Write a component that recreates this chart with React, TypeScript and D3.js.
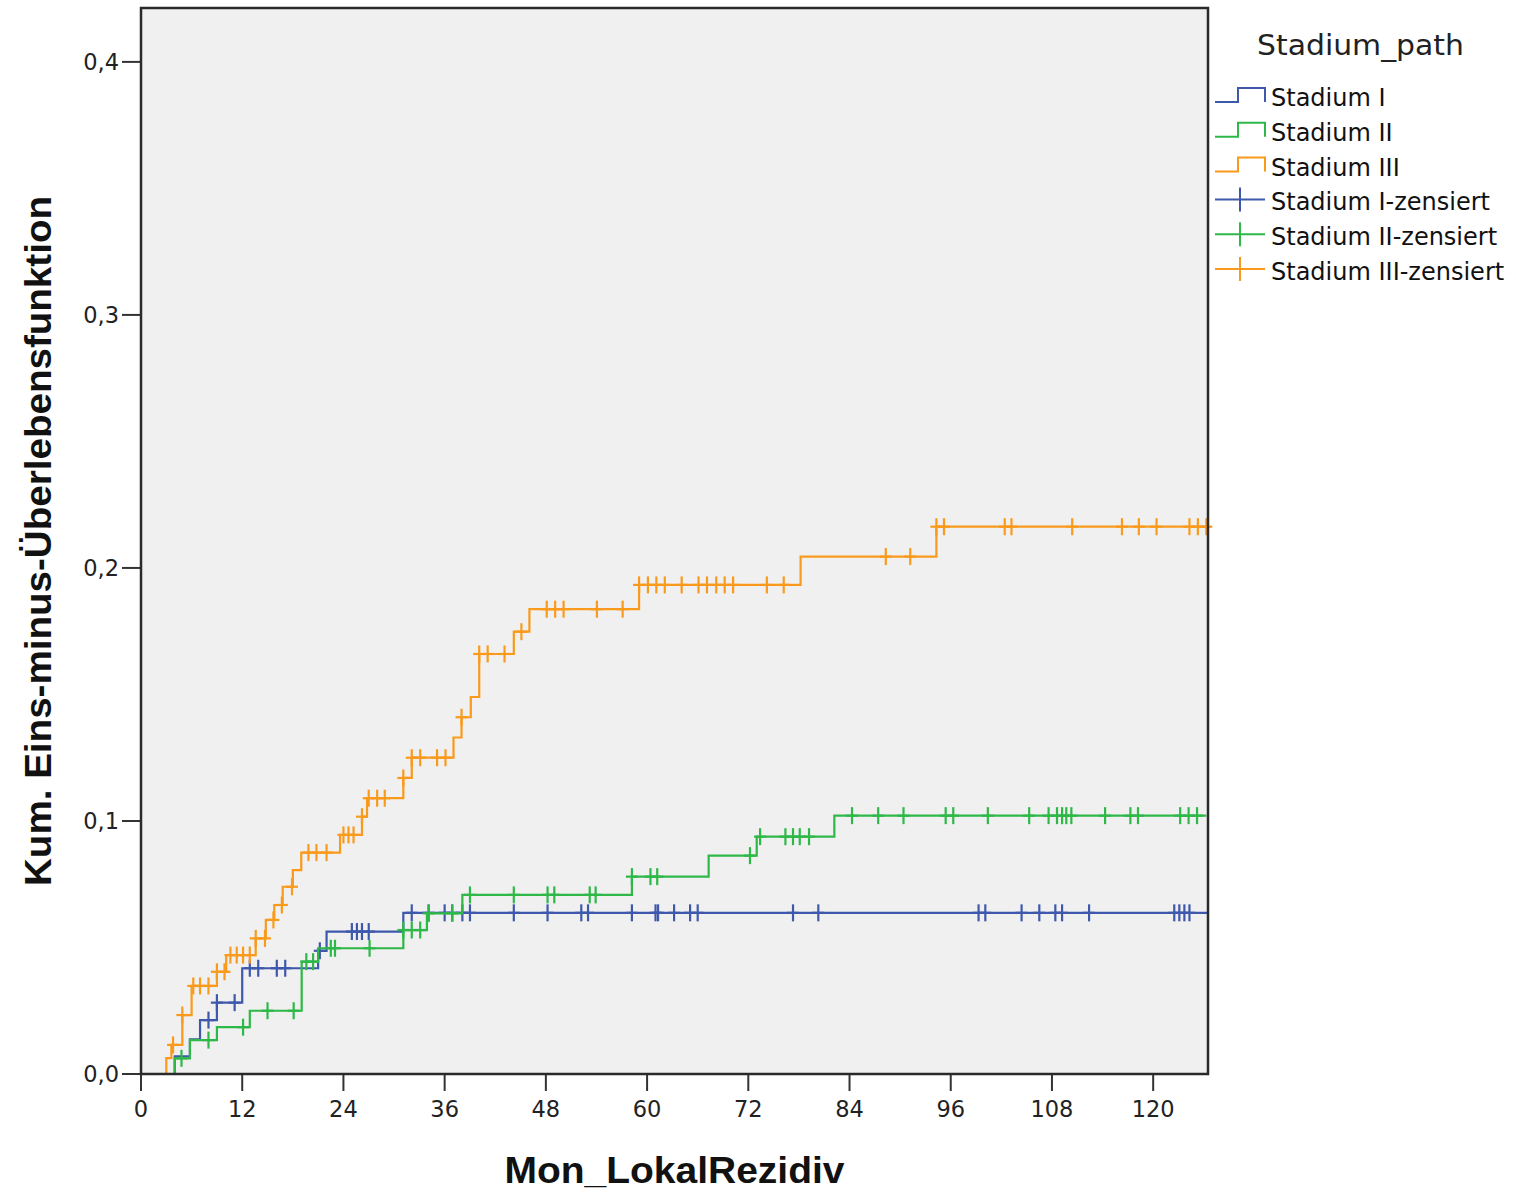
import { useMemo } from 'react';
import * as d3 from 'd3';

// series names, legend entries
const categories = ['Stadium I', 'Stadium II', 'Stadium III'];
const legendTitle = 'Stadium_path';
const censorSuffix = '-zensiert';

// Stadium I: event times (months) and cumulative 1 - S(t) after each step
const stageIEventTimes = [4.0, 5.8, 7.0, 9.0, 12.0, 21.0, 22.0, 31.1];
const stageIEventValues = [0.007, 0.0137, 0.0213, 0.0282, 0.0418, 0.0487, 0.0563, 0.0637];
const stageICensored = [
  8.0, 9.0, 11.1, 12.9, 13.9, 16.1, 17.1, 21.2, 25.0, 25.6, 26.2, 27.0, 32.1, 34.1, 36.0, 36.9,
  38.1, 39.0, 44.2, 48.2, 52.2, 53.0, 58.2, 61.0, 61.3, 63.2, 65.1, 66.0, 77.3, 80.3, 99.3, 100.1,
  104.4, 106.5, 108.4, 109.2, 112.4, 122.5, 123.1, 123.7, 124.3,
];

// Stadium II
const stageIIEventTimes = [4.0, 5.8, 9.0, 12.9, 19.05, 21.0, 31.1, 33.9, 38.1, 58.2, 67.3, 73.0, 82.2];
const stageIIEventValues = [0.0062, 0.0134, 0.0185, 0.025, 0.0444, 0.0497, 0.0569, 0.0635, 0.0708, 0.078, 0.0863, 0.0938, 0.1021];
const stageIICensored = [
  4.8, 8.0, 12.1, 15.0, 18.1, 19.6, 20.4, 22.5, 23.0, 27.1, 31.1, 32.1, 33.1, 34.1, 36.9, 39.0,
  44.2, 48.2, 49.0, 53.2, 53.9, 58.2, 60.4, 61.2, 72.2, 73.4, 76.4, 77.3, 78.1, 79.2, 84.3, 87.4,
  90.4, 95.4, 96.3, 100.4, 105.3, 107.6, 108.6, 109.2, 109.7, 110.3, 114.3, 117.3, 118.2, 123.2,
  124.2, 125.2,
];

// Stadium III
const stageIIIEventTimes = [
  3.0, 3.6, 4.9, 6.0, 9.0, 10.1, 13.6, 14.8, 15.8, 16.8, 18.0, 19.0, 23.6, 26.2, 26.8, 31.1, 32.1,
  37.05, 38.0, 39.1, 40.1, 44.2, 46.05, 59.05, 78.2, 94.3,
];
const stageIIIEventValues = [
  0.0063, 0.0115, 0.0233, 0.0348, 0.0404, 0.047, 0.0536, 0.0609, 0.0668, 0.074, 0.0806, 0.0875,
  0.0945, 0.1017, 0.109, 0.117, 0.125, 0.133, 0.141, 0.149, 0.166, 0.1748, 0.1837, 0.1933, 0.2045,
  0.2163,
];
const stageIIICensored = [
  3.8, 4.9, 6.2, 7.0, 8.0, 9.0, 9.9, 10.6, 11.35, 12.1, 12.9, 13.6, 14.7, 15.7, 16.7, 17.9, 19.85,
  20.8, 22.0, 24.0, 24.6, 25.2, 26.2, 27.0, 28.0, 28.9, 31.1, 32.1, 33.1, 35.1, 36.1, 38.0, 40.1,
  41.1, 43.1, 45.1, 48.1, 49.1, 50.1, 54.05, 57.1, 59.05, 60.1, 61.1, 62.1, 64.1, 66.1, 67.1, 68.2,
  69.2, 70.2, 74.2, 76.2, 88.3, 91.2, 94.3, 95.2, 102.4, 103.2, 110.4, 116.3, 118.3, 120.4, 124.3,
  125.3, 126.3,
];

// end of follow-up per group
const followUpEnd = [126.5, 126.3, 126.5];

// axes
const xTickValues = [0, 12, 24, 36, 48, 60, 72, 84, 96, 108, 120];
const yTickValues = [0, 0.1, 0.2, 0.3, 0.4];
const yTickLabels = ['0,0', '0,1', '0,2', '0,3', '0,4'];
const xTitle = 'Mon_LokalRezidiv';
const yTitle = 'Kum. Eins-minus-Überlebensfunktion';

const colors = ['#3e58ac', '#2eb848', '#f99a1c'];

const W = 1516;
const H = 1192;
const plot = { left: 141, right: 1208, top: 8, bottom: 1074 };

const App = () => {
  const x = d3.scaleLinear().domain([0, 126.5]).range([plot.left, plot.right]);
  const y = d3.scaleLinear().domain([0, 0.4213]).range([plot.bottom, plot.top]);

  const series = useMemo(() => {
    const times = [stageIEventTimes, stageIIEventTimes, stageIIIEventTimes];
    const values = [stageIEventValues, stageIIEventValues, stageIIIEventValues];
    const cens = [stageICensored, stageIICensored, stageIIICensored];
    return categories.map((name, i) => {
      const pts: [number, number][] = [[0, 0]];
      times[i].forEach((t, j) => pts.push([t, values[i][j]]));
      pts.push([followUpEnd[i], values[i][values[i].length - 1]]);
      const valueAt = (t: number) => {
        const k = d3.bisectRight(times[i], t);
        return k === 0 ? 0 : values[i][k - 1];
      };
      const marks = cens[i].map((t) => [t, valueAt(t)] as [number, number]);
      return { name, color: colors[i], pts, marks };
    });
  }, []);

  const line = d3
    .line<[number, number]>()
    .x((d) => x(d[0]))
    .y((d) => y(d[1]))
    .curve(d3.curveStepAfter);

  const legendY0 = 95;
  const legendStep = 34.8;
  const lx = 1215;

  return (
    <svg
      width={W}
      height={H}
      style={{ position: 'absolute', left: 0, top: 0, display: 'block', background: '#fff' }}
    >
      <rect
        x={plot.left}
        y={plot.top}
        width={plot.right - plot.left}
        height={plot.bottom - plot.top}
        fill="#f0f0f0"
      />

      {/* y ticks */}
      {yTickValues.map((v, i) => (
        <g key={'y' + v}>
          <line x1={plot.left - 19} x2={plot.left} y1={y(v)} y2={y(v)} stroke="#333" strokeWidth={2} />
          <text
            x={plot.left - 22}
            y={y(v)}
            textAnchor="end"
            dominantBaseline="central"
            fontFamily="DejaVu Sans"
            fontSize={22.5}
            fill="#222"
          >
            {yTickLabels[i]}
          </text>
        </g>
      ))}

      {/* x ticks */}
      {xTickValues.map((v) => (
        <g key={'x' + v}>
          <line x1={x(v)} x2={x(v)} y1={plot.bottom} y2={plot.bottom + 17} stroke="#333" strokeWidth={2} />
          <text
            x={x(v)}
            y={plot.bottom + 43}
            textAnchor="middle"
            fontFamily="DejaVu Sans"
            fontSize={22.5}
            fill="#222"
          >
            {v}
          </text>
        </g>
      ))}

      {/* curves */}
      {series.map((s) => (
        <g key={s.name}>
          <path d={line(s.pts) || ''} fill="none" stroke={s.color} strokeWidth={2.2} />
          {s.marks.map(([t, v], k) => (
            <g key={k} stroke={s.color} strokeWidth={2.2}>
              <line x1={x(t)} x2={x(t)} y1={y(v) - 8.5} y2={y(v) + 8.5} />
              <line x1={x(t) - 6} x2={x(t) + 6} y1={y(v)} y2={y(v)} />
            </g>
          ))}
        </g>
      ))}

      <rect
        x={plot.left}
        y={plot.top}
        width={plot.right - plot.left}
        height={plot.bottom - plot.top}
        fill="none"
        stroke="#2a2a2a"
        strokeWidth={2.5}
      />

      {/* axis titles */}
      <text
        x={(plot.left + plot.right) / 2}
        y={1183}
        textAnchor="middle"
        fontFamily="Liberation Sans"
        fontWeight="bold"
        fontSize={36}
        fill="#111"
        textLength={340}
        lengthAdjust="spacingAndGlyphs"
      >
        {xTitle}
      </text>
      <text
        transform={`translate(51, ${(plot.top + plot.bottom) / 2}) rotate(-90)`}
        textAnchor="middle"
        fontFamily="Liberation Sans"
        fontWeight="bold"
        fontSize={36}
        fill="#111"
        textLength={690}
        lengthAdjust="spacingAndGlyphs"
      >
        {yTitle}
      </text>

      {/* legend */}
      <text
        x={1257}
        y={55}
        fontFamily="DejaVu Sans"
        fontSize={29}
        fill="#222"
        textLength={207}
        lengthAdjust="spacingAndGlyphs"
      >
        {legendTitle}
      </text>
      {series.map((s, i) => {
        const cy = legendY0 + i * legendStep;
        return (
          <g key={'ls' + s.name}>
            <path
              d={`M${lx},${cy + 7}H${lx + 23}V${cy - 7}H${lx + 50}V${cy + 7}`}
              fill="none"
              stroke={s.color}
              strokeWidth={2}
            />
            <text x={1271} y={cy + 11} fontFamily="DejaVu Sans" fontSize={24} fill="#111">
              {s.name}
            </text>
          </g>
        );
      })}
      {series.map((s, i) => {
        const cy = legendY0 + (i + 3) * legendStep;
        return (
          <g key={'lc' + s.name}>
            <line x1={lx} x2={lx + 50} y1={cy} y2={cy} stroke={s.color} strokeWidth={2} />
            <line x1={lx + 25} x2={lx + 25} y1={cy - 12} y2={cy + 12} stroke={s.color} strokeWidth={2} />
            <text x={1271} y={cy + 11} fontFamily="DejaVu Sans" fontSize={24} fill="#111">
              {s.name + censorSuffix}
            </text>
          </g>
        );
      })}
    </svg>
  );
};

export default App;
